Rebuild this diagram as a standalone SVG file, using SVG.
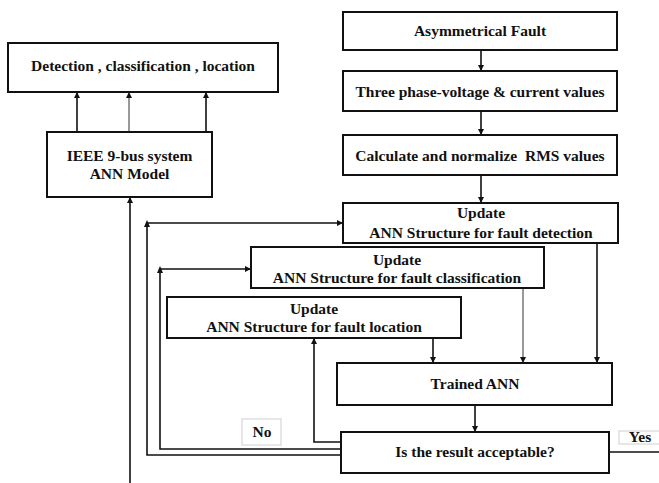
<svg xmlns="http://www.w3.org/2000/svg" width="659" height="483" viewBox="0 0 659 483">
  <style>
    .box { fill: #ffffff; stroke: #111111; stroke-width: 2; }
    .tag { fill: #ffffff; stroke: #cfcfcf; stroke-width: 1; }
    .t { font-family: "Liberation Serif", "Times New Roman", serif; font-weight: bold; font-size: 15.5px; fill: #111111; text-anchor: middle; }
    .ln { fill: none; stroke: #111111; stroke-width: 1.6; }
    .thin { fill: none; stroke: #555555; stroke-width: 1.2; }
  </style>
  <defs>
    <marker id="ah" viewBox="0 0 10 10" refX="10" refY="5" markerWidth="6" markerHeight="6" markerUnits="userSpaceOnUse" orient="auto">
      <path d="M0,0 L10,5 L0,10 z" fill="#111111"/>
    </marker>
  </defs>

  <!-- connectors -->
  <g id="connectors">
    <!-- IEEE model feeding the output box -->
    <line class="ln" x1="77" y1="132" x2="77" y2="92" marker-end="url(#ah)"/>
    <line class="thin" x1="129" y1="132" x2="129" y2="92" marker-end="url(#ah)"/>
    <line class="ln" x1="206" y1="132" x2="206" y2="92" marker-end="url(#ah)"/>
    <line class="ln" x1="130" y1="483" x2="130" y2="197" marker-end="url(#ah)"/>

    <!-- main chain -->
    <line class="ln" x1="481" y1="50" x2="481" y2="71" marker-end="url(#ah)"/>
    <line class="ln" x1="481" y1="111" x2="481" y2="135" marker-end="url(#ah)"/>
    <line class="ln" x1="481" y1="175" x2="481" y2="203" marker-end="url(#ah)"/>

    <!-- updates into trained ANN -->
    <line class="ln" x1="597" y1="243" x2="597" y2="363" marker-end="url(#ah)"/>
    <line class="thin" x1="523" y1="288" x2="523" y2="363" marker-end="url(#ah)"/>
    <line class="ln" x1="433" y1="338" x2="433" y2="363" marker-end="url(#ah)"/>
    <line class="ln" x1="475" y1="405" x2="475" y2="432" marker-end="url(#ah)"/>

    <!-- feedback loops (No) -->
    <polyline class="ln" points="341,442 314,442 314,338" marker-end="url(#ah)"/>
    <polyline class="ln" points="341,449 160,449 160,269 251,269" marker-end="url(#ah)"/>
    <polyline class="ln" points="341,455 147,455 147,223 343,223" marker-end="url(#ah)"/>
    <path d="M157,273 L160,266 L163,273 z" fill="#111111"/>
    <path d="M144,227 L147,220 L150,227 z" fill="#111111"/>

    <!-- Yes exit -->
    <line class="ln" x1="609" y1="452" x2="659" y2="452"/>
  </g>

  <g id="output">
    <rect class="box" x="8" y="43" width="270" height="49"/>
    <text class="t" x="143" y="71">Detection , classification , location</text>
  </g>

  <g id="model">
    <rect class="box" x="47" y="132" width="165" height="65"/>
    <text class="t" x="129.5" y="161">IEEE 9-bus system</text>
    <text class="t" x="129.5" y="179">ANN Model</text>
  </g>

  <g id="fault">
    <rect class="box" x="343" y="12" width="274" height="38"/>
    <text class="t" x="480" y="36">Asymmetrical Fault</text>
  </g>

  <g id="measure">
    <rect class="box" x="343" y="71" width="274" height="40"/>
    <text class="t" x="480" y="97">Three phase-voltage &amp; current values</text>
  </g>

  <g id="normalize">
    <rect class="box" x="343" y="135" width="274" height="40"/>
    <text class="t" x="480" y="161">Calculate and normalize&#160; RMS values</text>
  </g>

  <g id="update-detection">
    <rect class="box" x="343" y="203" width="275" height="40"/>
    <text class="t" x="481" y="218">Update</text>
    <text class="t" x="481" y="238">ANN Structure for fault detection</text>
  </g>

  <g id="update-classification">
    <rect class="box" x="251" y="247" width="293" height="41"/>
    <text class="t" x="397" y="265">Update</text>
    <text class="t" x="397" y="283">ANN Structure for fault classification</text>
  </g>

  <g id="update-location">
    <rect class="box" x="167" y="297" width="294" height="41"/>
    <text class="t" x="314" y="314">Update</text>
    <text class="t" x="314" y="332">ANN Structure for fault location</text>
  </g>

  <g id="trained">
    <rect class="box" x="337" y="363" width="275" height="42"/>
    <text class="t" x="475" y="389">Trained ANN</text>
  </g>

  <g id="decision">
    <rect class="box" x="341" y="432" width="268" height="41"/>
    <text class="t" x="475" y="457">Is the result acceptable?</text>
  </g>

  <g id="label-no">
    <rect class="tag" x="242" y="419" width="39" height="26"/>
    <text class="t" x="262" y="437">No</text>
  </g>

  <g id="label-yes">
    <rect class="tag" x="619" y="431" width="45" height="13"/>
    <text class="t" x="640" y="442">Yes</text>
  </g>
</svg>
